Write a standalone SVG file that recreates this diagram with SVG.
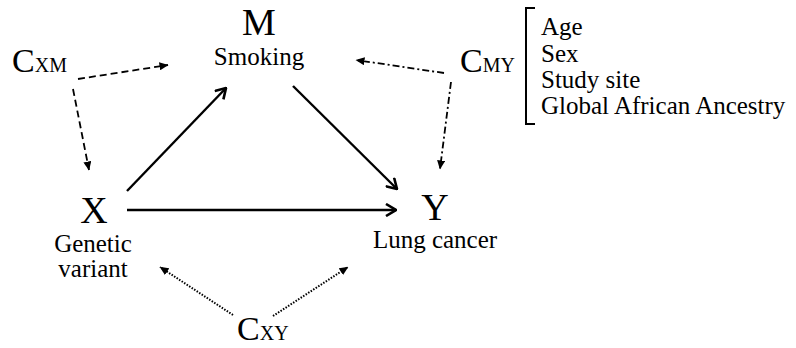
<svg xmlns="http://www.w3.org/2000/svg" width="796" height="348" viewBox="0 0 796 348">
<style>
text{font-family:"Liberation Serif","Times New Roman",serif;fill:#000}
.big{font-size:38px}
.lab{font-size:25px}
.c{font-size:34px}
.sub{font-size:20px}
.solid{stroke:#000;stroke-width:2.4;fill:none;marker-end:url(#open)}
.dash{stroke:#000;stroke-width:1.8;fill:none;stroke-dasharray:7 4;marker-end:url(#tri)}
.dashdot{stroke:#000;stroke-width:1.8;fill:none;stroke-dasharray:7 3 2 3;marker-end:url(#tri)}
.dot{stroke:#000;stroke-width:2;fill:none;stroke-dasharray:1.5 1.5;marker-end:url(#tri)}
</style>
<defs>
<marker id="open" markerUnits="userSpaceOnUse" viewBox="0 0 14 14" refX="13" refY="7" markerWidth="14" markerHeight="14" orient="auto">
<path d="M3,1 L13,7 L3,13" fill="none" stroke="#000" stroke-width="2.6"/>
</marker>
<marker id="tri" markerUnits="userSpaceOnUse" viewBox="0 0 9 8" refX="8.5" refY="4" markerWidth="9" markerHeight="8" orient="auto">
<path d="M0,0 L9,4 L0,8 Z" fill="#000"/>
</marker>
</defs>
<g id="connectors">
<line class="solid" x1="127" y1="191" x2="226" y2="88"/>
<line class="solid" x1="293" y1="86" x2="397" y2="189"/>
<line class="solid" x1="127" y1="210" x2="396" y2="210"/>
<line class="dash" x1="78" y1="79" x2="168" y2="65"/>
<line class="dash" x1="73" y1="89" x2="89" y2="170"/>
<line class="dashdot" x1="444" y1="73" x2="356" y2="60"/>
<line class="dashdot" x1="451" y1="82" x2="440" y2="169"/>
<line class="dot" x1="233" y1="315" x2="160" y2="267"/>
<line class="dot" x1="273" y1="316" x2="348" y2="267"/>
</g>
<g id="node-M">
<text class="big" x="259" y="35" text-anchor="middle">M</text>
<text class="lab" x="259" y="65" text-anchor="middle">Smoking</text>
</g>
<g id="node-X">
<text class="big" x="94" y="223" text-anchor="middle">X</text>
<text class="lab" x="93" y="252" text-anchor="middle">Genetic</text>
<text class="lab" x="93" y="277" text-anchor="middle">variant</text>
</g>
<g id="node-Y">
<text class="big" x="435" y="220" text-anchor="middle">Y</text>
<text class="lab" x="435" y="248" text-anchor="middle">Lung cancer</text>
</g>
<g id="node-CXM">
<text x="12" y="72"><tspan class="c">C</tspan><tspan class="sub">XM</tspan></text>
</g>
<g id="node-CMY">
<text x="460" y="72"><tspan class="c">C</tspan><tspan class="sub">MY</tspan></text>
</g>
<g id="node-CXY">
<text x="237" y="340"><tspan class="c">C</tspan><tspan class="sub">XY</tspan></text>
</g>
<g id="covariates">
<path d="M535,8 H526 V124 H535" fill="none" stroke="#000" stroke-width="2"/>
<text class="lab" x="541" y="35">Age</text>
<text class="lab" x="541" y="62">Sex</text>
<text class="lab" x="541" y="88">Study site</text>
<text class="lab" x="541" y="114">Global African Ancestry</text>
</g>
</svg>
